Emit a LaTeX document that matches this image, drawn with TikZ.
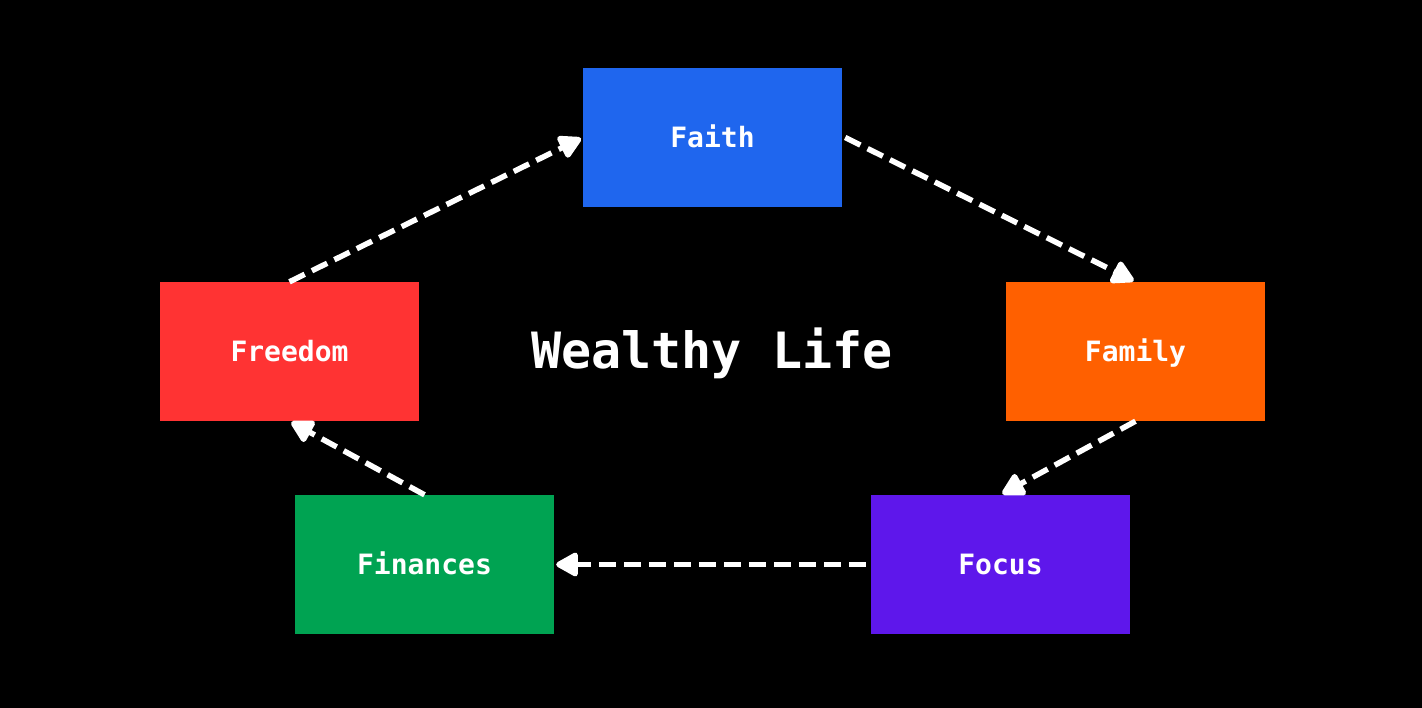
\documentclass[tikz,border=0pt]{standalone}
\usepackage{fontspec}
\setmonofont{DejaVu Sans Mono}
\usetikzlibrary{arrows.meta}
\definecolor{cfaith}{HTML}{1F66EE}
\definecolor{cfreedom}{HTML}{FF3333}
\definecolor{cfamily}{HTML}{FF6000}
\definecolor{cfinances}{HTML}{00A352}
\definecolor{cfocus}{HTML}{5E17EB}
\tikzset{
  box/.style={minimum width=259pt, minimum height=139pt, inner sep=0pt, text=white,
    text height=20pt, text depth=0pt,
    font=\ttfamily\bfseries\fontsize{28}{32}\selectfont},
  flow/.style={white, line width=5.5pt, dash pattern=on 17pt off 8pt,
    -{Triangle[length=25pt,width=26pt,round,fill=white]}, shorten >=2pt}
}
\begin{document}
\begin{tikzpicture}[x=1pt,y=-1pt]
\fill[black] (0,0) rectangle (1422,708);
\useasboundingbox (0,0) rectangle (1422,708);
\node[box, fill=cfaith] (faith) at (712.5,137.5) {Faith};
\node[box, fill=cfreedom] (freedom) at (289.5,351.5) {Freedom};
\node[box, fill=cfamily] (family) at (1135.5,351.5) {Family};
\node[box, fill=cfinances] (finances) at (424.5,564.5) {Finances};
\node[box, fill=cfocus] (focus) at (1000.5,564.5) {Focus};
\node[text=white, font=\ttfamily\bfseries\fontsize{50}{56}\selectfont] (title) at (712,353) {Wealthy Life};
\draw[flow] ([xshift=3pt]faith.east) -- (family.north);
\draw[flow] (family.south) -- (focus.north);
\draw[flow] ([xshift=-5pt]focus.west) -- (finances.east);
\draw[flow] (finances.north) -- (freedom.south);
\draw[flow] (freedom.north) -- (faith.west);
\end{tikzpicture}
\end{document}
